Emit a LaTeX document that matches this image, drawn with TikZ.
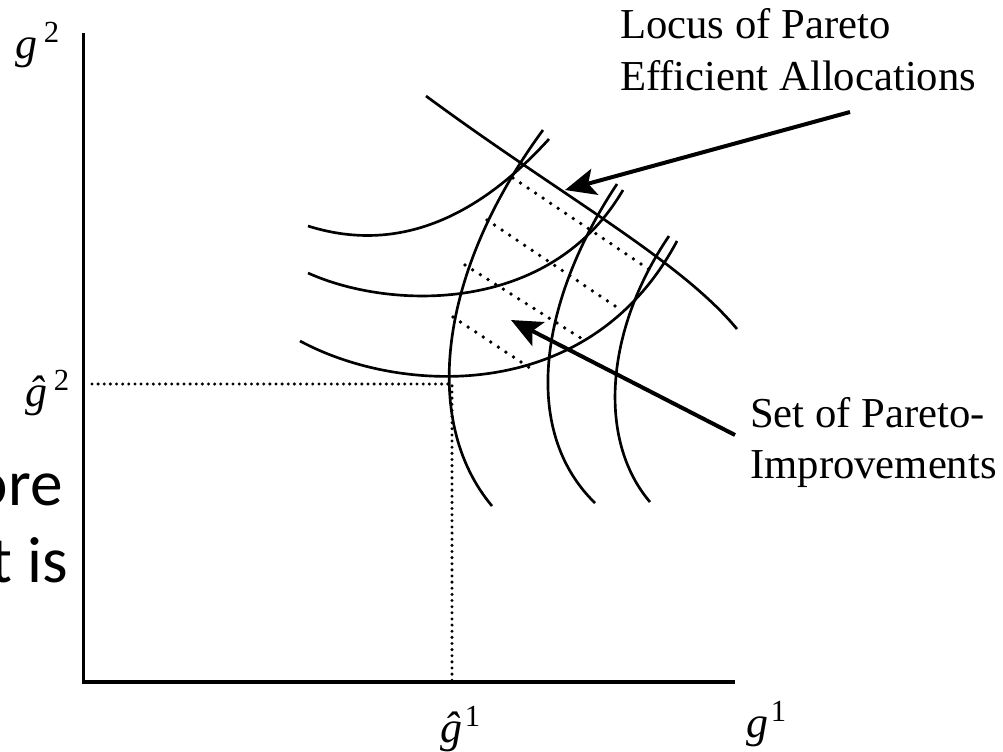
\documentclass[tikz,border=0pt]{standalone}
\usepackage{fontspec}
\setmainfont{Liberation Serif}
\newfontfamily\calfont{Carlito}
\usetikzlibrary{arrows.meta}
\newcommand{\suplab}[3]{{\itshape #1}\hspace{#3}\raisebox{12pt}{\fontsize{23}{23}\selectfont #2}}
\begin{document}
\begin{tikzpicture}[x=0.75pt,y=-0.75pt,
  curve/.style={line width=2pt},
  axisline/.style={line width=2.5pt},
  dotline/.style={line width=2.8pt, line cap=round, dash pattern=on 0pt off 6.8pt},
  guideline/.style={line width=2.5pt, line cap=round, dash pattern=on 0pt off 4.6pt},
  pointer/.style={line width=3pt, -{Stealth[length=23pt,width=20pt,inset=5pt]}},
  lbl/.style={inner sep=0pt, anchor=base west, font=\fontsize{32}{38}\selectfont},
  axlbl/.style={inner sep=0pt, anchor=base west, font=\fontsize{33}{38}\selectfont},
  slide/.style={inner sep=0pt, anchor=base east, font=\calfont\fontsize{49}{58}\selectfont},
]
\useasboundingbox (0,0) rectangle (1003,751);
\clip (0,0) rectangle (1003,751);

% axes
\coordinate (O) at (83.5,682);
\coordinate (ytop) at (83.5,33);
\coordinate (xend) at (735,682);
\draw[axisline] (ytop) -- (O) -- (xend);

% guides
\coordinate (gh) at (452,384);
\coordinate (ghy) at (92,384);
\coordinate (ghx) at (452,682);
\draw[guideline] (ghy) -- (gh) -- (ghx);

% axis labels
\node[axlbl] (g2) at (15,58) {\suplab{g}{2}{5pt}};
\node[axlbl] (gh2) at (25,406) {\suplab{ĝ}{2}{5pt}};
\node[axlbl] (gh1) at (440,742) {\suplab{ĝ}{1}{2pt}};
\node[axlbl] (g1) at (746,737) {\suplab{g}{1}{2pt}};

% person 1 indifference curves
\draw[curve] (308,226) .. controls (400,255) and (480,215) .. (549,139);
\draw[curve] (308,273) .. controls (390,310) and (550,315) .. (623,190);
\draw[curve] (300,341) .. controls (400,395) and (590,405) .. (677,241);

% person 2 indifference curves
\draw[curve] (543,130) .. controls (440,270) and (420,420) .. (492,506);
\draw[curve] (617,184) .. controls (540,300) and (520,430) .. (595,503);
\draw[curve] (669,236) .. controls (605,330) and (597,440) .. (650,502);

% locus of Pareto efficient allocations
\draw[curve] (426,96) .. controls (560,195) and (680,260) .. (737,329);

% set of Pareto improvements (dotted)
\draw[dotline] (513,178) -- (650,270);
\draw[dotline] (487,220) -- (618,308);
\draw[dotline] (465,265) -- (587,342);
\draw[dotline] (453,317) -- (530,368);

% labels
\node[lbl] (locusA) at (620,38) {Locus of Pareto};
\node[lbl] (locusB) at (620,90) {Efficient Allocations};
\node[lbl] (setA) at (750,427) {Set of Pareto-};
\node[lbl] (setB) at (750,478) {Improvements};

% arrows
\coordinate (a1tail) at (850,112);
\coordinate (a1tip) at (565,190);
\draw[pointer] (a1tail) -- (a1tip);
\coordinate (a2tail) at (735,435);
\coordinate (a2tip) at (511,320);
\draw[pointer] (a2tail) -- (a2tip);

% cropped slide text
\node[slide] (ore) at (63,505) {ore};
\node[slide] (tis) at (68,582) {t is};
\end{tikzpicture}
\end{document}
